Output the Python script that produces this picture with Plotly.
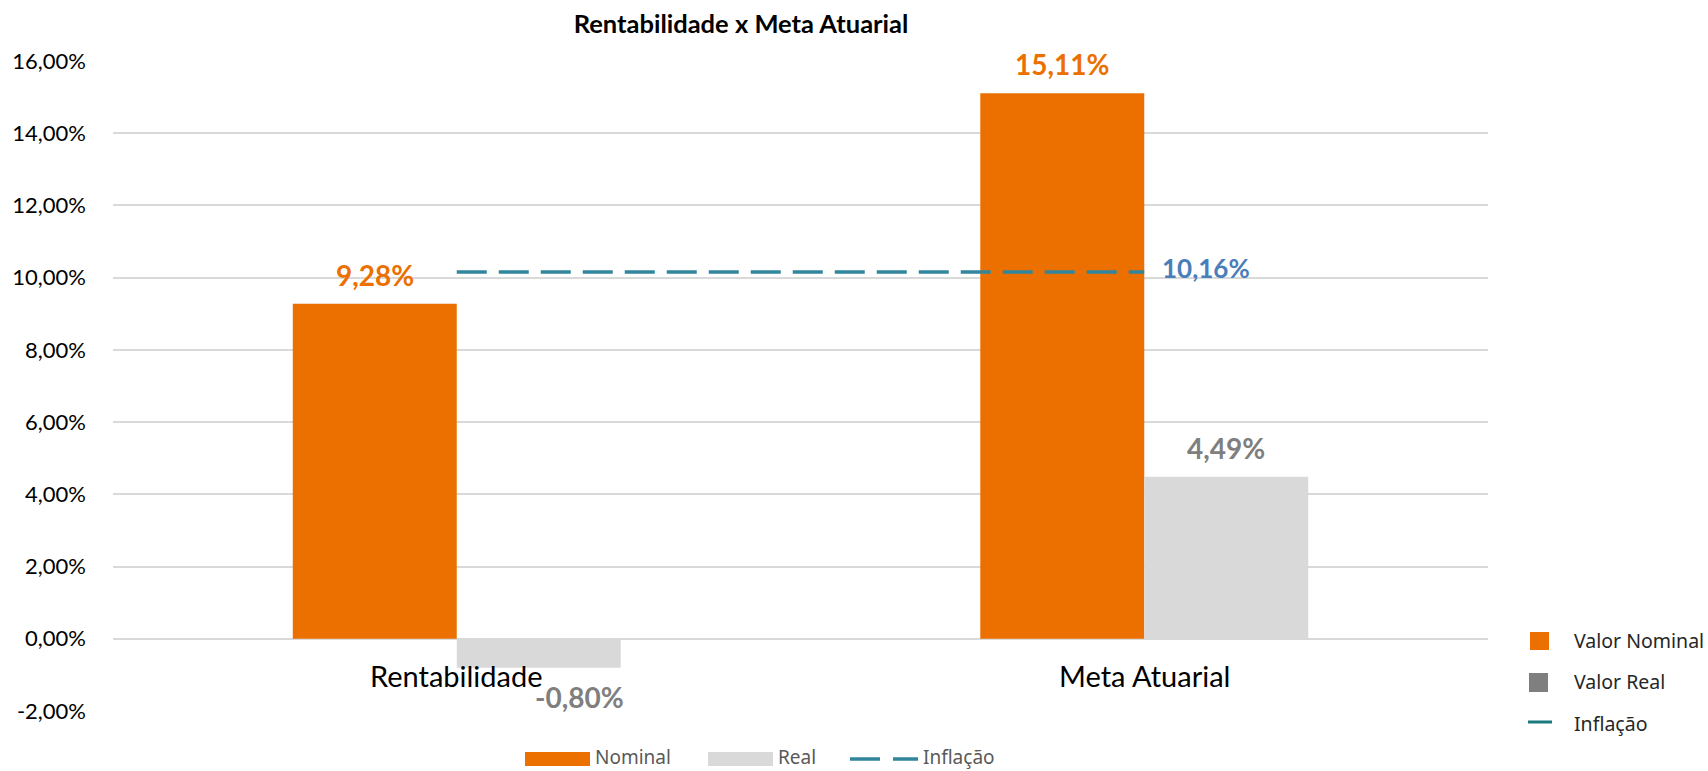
import plotly.graph_objects as go

# ---- data -------------------------------------------------------------
categories = ["Rentabilidade", "Meta Atuarial"]
nominal = [9.28, 15.11]
real = [-0.80, 4.49]
inflacao = [10.16, 10.16]
y_ticks = [-2, 0, 2, 4, 6, 8, 10, 12, 14, 16]

# ---- styling ----------------------------------------------------------
W, H = 1708, 771
ML, MR, MT, MB = 113, 220, 61, 60
PW, PH = W - ML - MR, H - MT - MB

ORANGE = "#EC7000"
LIGHT = "#D9D9D9"
GREY = "#7F7F7F"
TEAL = "#31859C"
TEAL_DARK = "#1B7A80"
BLUE = "#4A7EBB"
TXT = "#595959"
FONT = "Lato"
UI_FONT = "Noto Sans"

BARGAP = 0.523
BAR_W = (1 - BARGAP) / 2


def fmt(v):
    return f"{v:.2f}".replace(".", ",") + "%"


def px(x):
    """pixel column -> paper x"""
    return (x - ML) / PW


def py(y):
    """pixel row -> paper y"""
    return (H - MB - y) / PH


fig = go.Figure()
fig.add_bar(x=categories, y=nominal, name="Nominal", marker=dict(color=ORANGE, line_width=0))
fig.add_bar(x=categories, y=real, name="Real", marker=dict(color=LIGHT, line_width=0))
fig.add_scatter(x=categories, y=inflacao, name="Inflação", mode="lines",
                line=dict(color=TEAL, width=3.5, dash="30px,12px"))

ann = []
# value labels above / below the bars
for i, (n, r) in enumerate(zip(nominal, real)):
    for v, off, col in ((n, -BAR_W / 2, ORANGE), (r, BAR_W / 2, GREY)):
        pos = v >= 0
        ann.append(dict(x=i + off, y=v, xref="x", yref="y", text=fmt(v), showarrow=False,
                        yanchor="bottom" if pos else "top", yshift=10 if pos else -10,
                        xshift=0 if pos else 41,
                        font=dict(family=FONT, size=28, color=col, weight="bold")))
# inflation label at the end of the dashed line
ann.append(dict(x=len(categories) - 1, y=inflacao[-1], xref="x", yref="y", text=fmt(inflacao[-1]),
                showarrow=False, xanchor="left", yanchor="middle", xshift=16, yshift=4,
                font=dict(family=FONT, size=26, color=BLUE, weight="bold")))
# category names sitting just under the zero line
for i, c in enumerate(categories):
    ann.append(dict(x=i, y=0, xref="x", yref="y", text=c, showarrow=False,
                    yanchor="top", yshift=-17, font=dict(family=FONT, size=29, color="#000000")))

shapes = []
# bottom legend
shapes.append(dict(type="rect", xref="paper", yref="paper", x0=px(525), x1=px(590),
                   y0=py(766), y1=py(752), fillcolor=ORANGE, line_width=0))
shapes.append(dict(type="rect", xref="paper", yref="paper", x0=px(708), x1=px(773),
                   y0=py(766), y1=py(752), fillcolor=LIGHT, line_width=0))
for a, b in ((850, 880), (893, 918)):
    shapes.append(dict(type="line", xref="paper", yref="paper", x0=px(a), x1=px(b),
                       y0=py(759), y1=py(759), line=dict(color=TEAL, width=3.5)))
for x, t in ((593, "Nominal"), (776, "Real"), (921, "Inflação")):
    ann.append(dict(x=px(x), y=py(757), xref="paper", yref="paper", text=t, showarrow=False,
                    xanchor="left", yanchor="middle", font=dict(family=UI_FONT, size=19, color=TXT)))

# side legend
shapes.append(dict(type="rect", xref="paper", yref="paper", x0=px(1530), x1=px(1549),
                   y0=py(650), y1=py(632), fillcolor=ORANGE, line_width=0))
shapes.append(dict(type="rect", xref="paper", yref="paper", x0=px(1529), x1=px(1548),
                   y0=py(692), y1=py(673), fillcolor=GREY, line_width=0))
shapes.append(dict(type="line", xref="paper", yref="paper", x0=px(1528), x1=px(1552),
                   y0=py(722), y1=py(722), line=dict(color=TEAL_DARK, width=3)))
for y, t in ((640, "Valor Nominal"), (681, "Valor Real"), (723, "Inflação")):
    ann.append(dict(x=px(1572), y=py(y), xref="paper", yref="paper", text=t, showarrow=False,
                    xanchor="left", yanchor="middle", font=dict(family=UI_FONT, size=19.5, color="#262626")))

fig.update_layout(
    width=W, height=H,
    margin=dict(l=ML, r=MR, t=MT, b=MB, pad=0),
    paper_bgcolor="white", plot_bgcolor="white",
    barmode="group", bargap=BARGAP, bargroupgap=0,
    separators=",.",
    showlegend=False,
    title=dict(text="<b>Rentabilidade x Meta Atuarial</b>", x=741 / W, xref="container", xanchor="center",
               y=1 - 24 / H, yref="container", yanchor="middle",
               font=dict(family=FONT, size=25.5, color="#000000")),
    xaxis=dict(type="category", range=[-0.5, len(categories) - 0.5], showticklabels=False,
               showgrid=False, zeroline=False, showline=False, ticks=""),
    yaxis=dict(range=[y_ticks[0], y_ticks[-1]], tickvals=y_ticks, ticktext=[fmt(v) for v in y_ticks],
               showgrid=True, gridcolor=LIGHT, gridwidth=1.5, zeroline=True, zerolinecolor=LIGHT,
               zerolinewidth=1.5, showline=False, ticks="", ticklabelstandoff=26,
               tickfont=dict(family=FONT, size=22, color="#000000")),
    annotations=ann, shapes=shapes,
)

fig.write_html("out.html")
